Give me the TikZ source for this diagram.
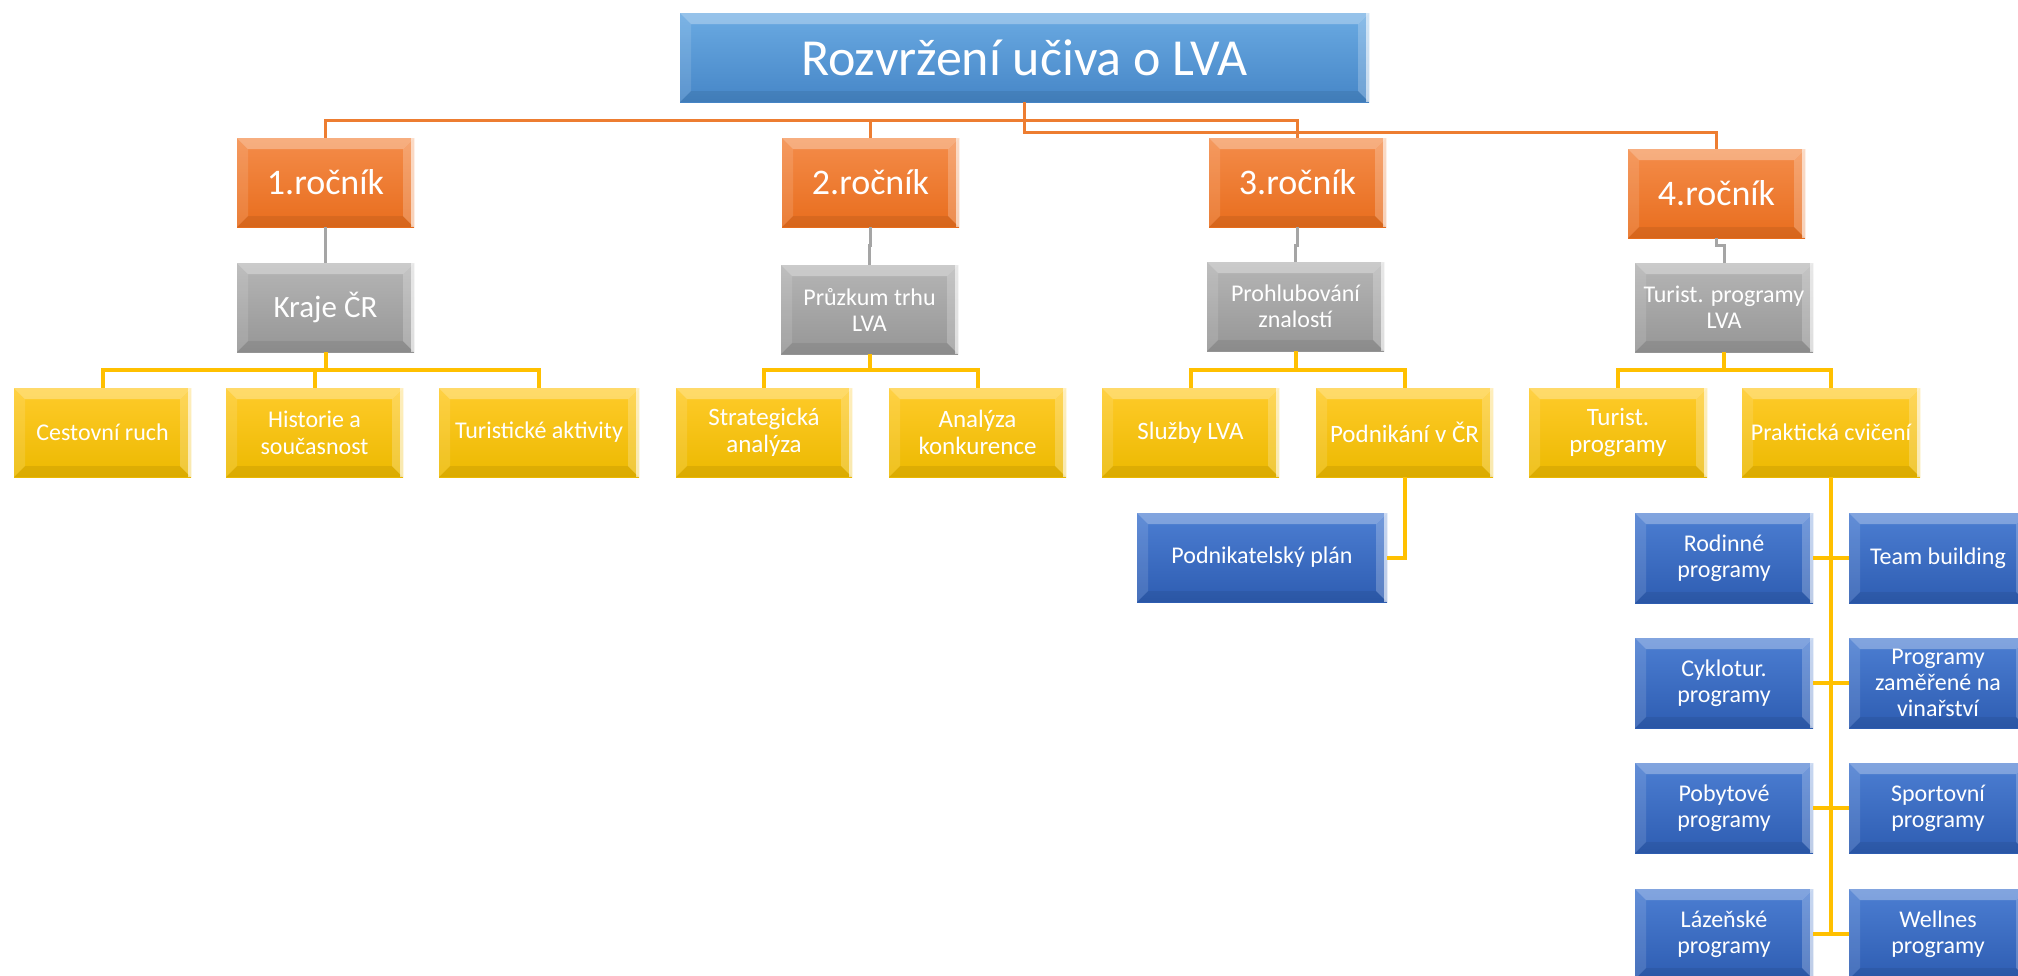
\documentclass[tikz,border=0pt]{standalone}
\usepackage{fontspec}
\setmainfont{Carlito}
\definecolor{rootT}{HTML}{6AAAE2}
\definecolor{rootB}{HTML}{4686C7}
\definecolor{orT}{HTML}{F48C4A}
\definecolor{orB}{HTML}{E86D1D}
\definecolor{grT}{HTML}{B5B5B5}
\definecolor{grB}{HTML}{969696}
\definecolor{yeT}{HTML}{FFCB2A}
\definecolor{yeB}{HTML}{ECB900}
\definecolor{blT}{HTML}{4C7ED2}
\definecolor{blB}{HTML}{2E5DB2}
\definecolor{lineO}{HTML}{ED7D31}
\definecolor{lineG}{HTML}{A5A5A5}
\definecolor{lineY}{HTML}{FFC000}
\tikzset{
  bevel/.style={path picture={
    \coordinate (ppnw) at (path picture bounding box.north west);
    \coordinate (ppse) at (path picture bounding box.south east);
    \coordinate (ppne) at (path picture bounding box.north east);
    \coordinate (ppsw) at (path picture bounding box.south west);
    \fill[white,opacity=0.3] (ppnw) -- (ppne) -- ([shift={(-11pt,-11pt)}]ppne) -- ([shift={(11pt,-11pt)}]ppnw) -- cycle;
    \fill[white,opacity=0.12] (ppnw) -- ([shift={(11pt,-11pt)}]ppnw) -- ([shift={(11pt,11pt)}]ppsw) -- (ppsw) -- cycle;
    \fill[black,opacity=0.07] (ppsw) -- ([shift={(11pt,11pt)}]ppsw) -- ([shift={(-11pt,11pt)}]ppse) -- (ppse) -- cycle;
    \fill[white,opacity=0.22] (ppne) -- ([shift={(-11pt,-11pt)}]ppne) -- ([shift={(-11pt,11pt)}]ppse) -- (ppse) -- cycle;
    \fill[white,opacity=0.6] ([xshift=-3pt]ppne) rectangle (ppse);
  }},
  basebox/.style={inner sep=0pt, text=white, align=center, bevel},
  rootbox/.style={basebox, top color=rootT, bottom color=rootB, minimum width=689pt, minimum height=89pt, font=\fontsize{52}{58}\selectfont},
  yearbox/.style={basebox, top color=orT, bottom color=orB, minimum width=177pt, minimum height=89pt, font=\fontsize{36}{40}\selectfont},
  greybox/.style={basebox, top color=grT, bottom color=grB, minimum width=177pt, minimum height=89pt, font=\fontsize{24}{26}\selectfont},
  yelbox/.style={basebox, top color=yeT, bottom color=yeB, minimum width=177pt, minimum height=89pt, font=\fontsize{25}{27}\selectfont},
  bluebox/.style={basebox, top color=blT, bottom color=blB, minimum width=178pt, minimum height=90pt, font=\fontsize{24}{26}\selectfont},
  olink/.style={draw=lineO, line width=3pt},
  glink/.style={draw=lineG, line width=3pt},
  ylink/.style={draw=lineY, line width=4pt},
}
\begin{document}
\begin{tikzpicture}[x=1pt, y=-1pt]
\useasboundingbox (0,0) rectangle (2018,975);
% top
\node[rootbox] (root) at (1024.5,57.5) {Rozvržení učiva o LVA};
% years
\node[yearbox] (r1) at (325.5,182.5) {1.ročník};
\node[yearbox] (r2) at (870.5,182.5) {2.ročník};
\node[yearbox] (r3) at (1297.5,182.5) {3.ročník};
\node[yearbox] (r4) at (1716.5,193.5) {4.ročník};
% grey
\node[greybox, font=\fontsize{31}{34}\selectfont] (g1) at (325.5,307.5) {Kraje ČR};
\node[greybox] (g2) at (869.5,309.5) {Průzkum trhu\\LVA};
\node[greybox] (g3) at (1295.5,306.5) {Prohlubování\\znalostí};
\node[greybox, minimum width=178pt] (g4) at (1724,307.5) {Turist. programy\\LVA};
% yellow
\node[yelbox, font=\fontsize{24}{27}\selectfont] (y11) at (102.5,432.5) {Cestovní ruch};
\node[yelbox, font=\fontsize{24}{27}\selectfont] (y12) at (314.5,432.5) {Historie a\\současnost};
\node[yelbox, minimum width=200pt, font=\fontsize{24}{27}\selectfont] (y13) at (539,432.5) {Turistické aktivity};
\node[yelbox, minimum width=176pt] (y21) at (764,432.5) {Strategická\\analýza};
\node[yelbox] (y22) at (977.5,432.5) {Analýza\\konkurence};
\node[yelbox] (y31) at (1190.5,432.5) {Služby LVA};
\node[yelbox] (y32) at (1404.5,432.5) {Podnikání v ČR};
\node[yelbox, minimum width=178pt] (y41) at (1618,432.5) {Turist.\\programy};
\node[yelbox, minimum width=178pt, font=\fontsize{24}{27}\selectfont] (y42) at (1831,432.5) {Praktická cvičení};
% blue
\node[bluebox, minimum width=250pt, minimum height=89pt] (b31) at (1262,557.5) {Podnikatelský plán};
\node[bluebox] (b41) at (1724,558) {Rodinné\\programy};
\node[bluebox] (b42) at (1938,558) {Team building};
\node[bluebox] (b43) at (1724,683) {Cyklotur.\\programy};
\node[bluebox] (b44) at (1938,683) {Programy\\zaměřené na\\vinařství};
\node[bluebox] (b45) at (1724,808) {Pobytové\\programy};
\node[bluebox] (b46) at (1938,808) {Sportovní\\programy};
\node[bluebox] (b47) at (1724,934) {Lázeňské\\programy};
\node[bluebox] (b48) at (1938,934) {Wellnes\\programy};
% bus coordinates
\coordinate (busA) at (0,120);
\coordinate (busB) at (0,132);
\coordinate (busY) at (0,370);
% connectors root -> years
\path[olink] (root.south) -- (root.south |- busA) -| (r1.north);
\path[olink] (root.south) -- (root.south |- busA) -| (r2.north);
\path[olink] (root.south) -- (root.south |- busA) -| (r3.north);
\path[olink] (root.south) -- (root.south |- busB) -| (r4.north);
% years -> grey
\path[glink] (r1.south) -- (g1.north);
\path[glink] (r2.south) -- ++(0,18) -| (g2.north);
\path[glink] (r3.south) -- ++(0,18) -| (g3.north);
\path[glink] (r4.south) -- ++(0,7) -| (g4.north);
% grey -> yellow
\path[ylink] (g1.south) -- (g1.south |- busY) -| (y11.north);
\path[ylink] (g1.south) -- (g1.south |- busY) -| (y12.north);
\path[ylink] (g1.south) -- (g1.south |- busY) -| (y13.north);
\path[ylink] (g2.south) -- (g2.south |- busY) -| (y21.north);
\path[ylink] (g2.south) -- (g2.south |- busY) -| (y22.north);
\path[ylink] (g3.south) -- (g3.south |- busY) -| (y31.north);
\path[ylink] (g3.south) -- (g3.south |- busY) -| (y32.north);
\path[ylink] (g4.south) -- (g4.south |- busY) -| (y41.north);
\path[ylink] (g4.south) -- (g4.south |- busY) -| (y42.north);
% yellow -> blue
\path[ylink] (y32.south) |- (b31.east);
\path[ylink] (y42.south) -- (y42.south |- b47.east);
\path[ylink] (b41.east) -- (b42.west);
\path[ylink] (b43.east) -- (b44.west);
\path[ylink] (b45.east) -- (b46.west);
\path[ylink] (b47.east) -- (b48.west);
\end{tikzpicture}
\end{document}
